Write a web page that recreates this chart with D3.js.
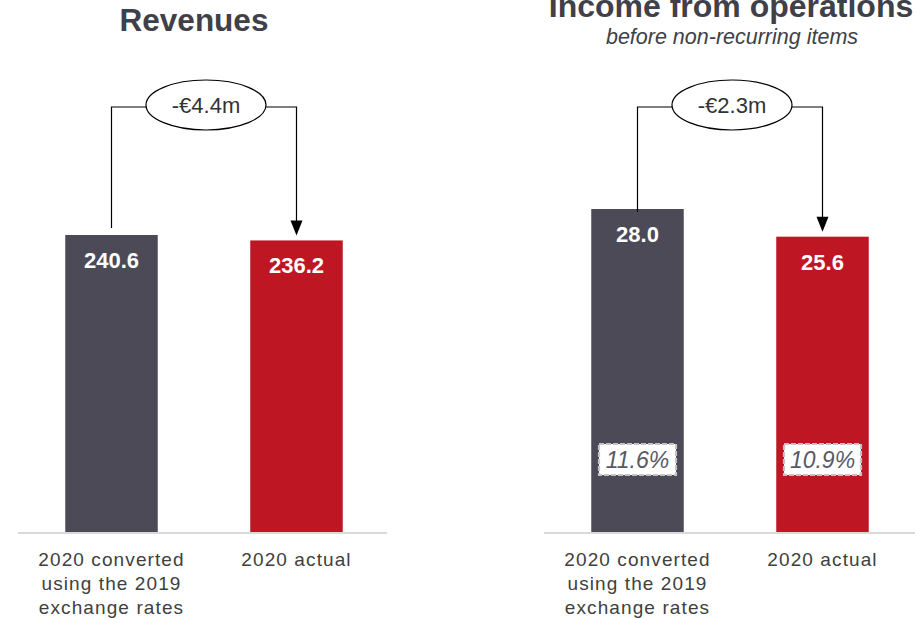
<!DOCTYPE html>
<html>
<head>
<meta charset="utf-8">
<script src="https://cdn.jsdelivr.net/npm/d3@7"></script>
<style>
  html, body { margin: 0; padding: 0; background: #fff; }
  svg { display: block; font-family: "Liberation Sans", Arial, sans-serif; }
</style>
</head>
<body>
<svg id="chart" width="915" height="619"></svg>
<script>
// Category labels (one entry per bar, split into lines)
const categories = ["2020 converted using the 2019 exchange rates", "2020 actual"];
const categoryLines = [["2020 converted", "using the 2019", "exchange rates"], ["2020 actual"]];

// Series values (€m)
const revenues = [240.6, 236.2];
const incomeFromOps = [28.0, 25.6];
const operatingMargin = [11.6, 10.9]; // % of revenues

// Variance call-outs
const revenueDelta = "-€4.4m";
const incomeDelta = "-€2.3m";

const barColors = ["#4c4a57", "#be1622"];

const panels = [
  { title: "Revenues", titleSize: 31.5, titleY: 31, titleDx: -10, subtitle: null,
    values: revenues, margins: null, delta: revenueDelta,
    x0: 19, x1: 389, axisX0: 18, axisX1: 387, topY: 235, startGap: 7 },
  { title: "Income from operations", titleSize: 32, titleY: 17, titleDx: 1, subtitle: "before non-recurring items",
    values: incomeFromOps, margins: operatingMargin, delta: incomeDelta,
    x0: 545, x1: 915, axisX0: 544, axisX1: 915, topY: 209, startGap: -3 }
];

const svg = d3.select("#chart");
const baseY = 532;
const bracketY = 107;

panels.forEach(p => {
  const g = svg.append("g");
  const x = d3.scaleBand().domain(categories).range([p.x0, p.x1])
    .paddingInner(0.5).paddingOuter(0.25);
  const y = d3.scaleLinear().domain([0, d3.max(p.values)]).range([baseY, p.topY]);
  const cx = i => x(categories[i]) + x.bandwidth() / 2;
  const mid = (cx(0) + cx(1)) / 2;

  // title
  g.append("text")
    .attr("x", mid + p.titleDx).attr("y", p.titleY)
    .attr("text-anchor", "middle")
    .attr("font-weight", "bold").attr("font-size", p.titleSize)
    .attr("fill", "#404048")
    .text(p.title);
  if (p.subtitle) {
    g.append("text")
      .attr("x", mid + 2).attr("y", 44)
      .attr("text-anchor", "middle")
      .attr("font-style", "italic").attr("font-size", 21.5)
      .attr("fill", "#404048")
      .text(p.subtitle);
  }

  // baseline
  g.append("line")
    .attr("x1", p.axisX0).attr("x2", p.axisX1)
    .attr("y1", baseY + 1).attr("y2", baseY + 1)
    .attr("stroke", "#d9d9d9").attr("stroke-width", 2);

  // bars
  g.selectAll("rect.bar").data(p.values).join("rect")
    .attr("class", "bar")
    .attr("x", (d, i) => x(categories[i]))
    .attr("y", d => y(d))
    .attr("width", x.bandwidth())
    .attr("height", d => baseY - y(d))
    .attr("fill", (d, i) => barColors[i]);

  // value labels inside bars
  g.selectAll("text.val").data(p.values).join("text")
    .attr("class", "val")
    .attr("x", (d, i) => cx(i))
    .attr("y", d => y(d) + 33)
    .attr("text-anchor", "middle")
    .attr("font-weight", "bold").attr("font-size", 22)
    .attr("fill", "#fff")
    .text(d => d3.format(".1f")(d));

  // margin labels in dashed boxes
  if (p.margins) {
    p.margins.forEach((m, i) => {
      const bw = 77, bh = 31, by = 444;
      g.append("rect")
        .attr("x", cx(i) - bw / 2).attr("y", by)
        .attr("width", bw).attr("height", bh)
        .attr("fill", "#fff")
        .attr("stroke", "#c4c4c4").attr("stroke-width", 2.2)
        .attr("stroke-dasharray", "5,2");
      g.append("text")
        .attr("x", cx(i)).attr("y", by + 23.5)
        .attr("text-anchor", "middle")
        .attr("font-style", "italic").attr("font-size", 23)
        .attr("fill", "#595965")
        .text(d3.format(".1f")(m) + "%");
    });
  }

  // category labels
  categoryLines.forEach((lines, i) => {
    const t = g.append("text")
      .attr("text-anchor", "middle")
      .attr("font-size", 19).attr("letter-spacing", 1.1)
      .attr("fill", "#404040");
    lines.forEach((ln, k) => {
      t.append("tspan").attr("x", cx(i)).attr("y", 566 + k * 24).text(ln);
    });
  });

  // variance bracket with arrow
  const ex = mid + 2, ey = 105, rx = 60, ry = 25;
  const xa = cx(0), xb = cx(1);
  const tipY = y(p.values[1]) - 5;
  g.append("path")
    .attr("d", `M${xa},${y(p.values[0]) - p.startGap} V${bracketY} H${ex - rx + 1}`)
    .attr("fill", "none").attr("stroke", "#000").attr("stroke-width", 1.2);
  g.append("path")
    .attr("d", `M${ex + rx - 1},${bracketY} H${xb} V${tipY - 14}`)
    .attr("fill", "none").attr("stroke", "#000").attr("stroke-width", 1.2);
  g.append("path")
    .attr("d", `M${xb - 6},${tipY - 15} L${xb + 6},${tipY - 15} L${xb},${tipY} Z`)
    .attr("fill", "#000");
  g.append("ellipse")
    .attr("cx", ex).attr("cy", ey).attr("rx", rx).attr("ry", ry)
    .attr("fill", "#fff").attr("stroke", "#000").attr("stroke-width", 1.2);
  g.append("text")
    .attr("x", ex).attr("y", ey + 8)
    .attr("text-anchor", "middle")
    .attr("font-size", 22)
    .attr("fill", "#333")
    .text(p.delta);
});
</script>
</body>
</html>
